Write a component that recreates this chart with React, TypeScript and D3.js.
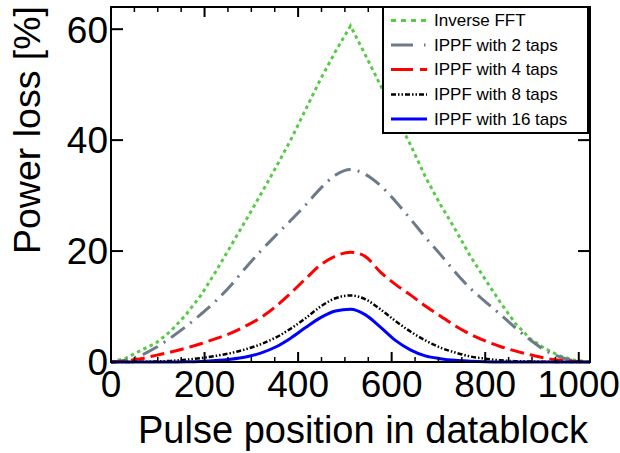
import React from "react";
import * as d3 from "d3";

// ---- data ----
const positions = [
  0, 32, 64, 96, 128, 160, 192, 224, 256, 288, 320, 352, 384, 416, 448, 480, 512,
  544, 576, 608, 640, 672, 704, 736, 768, 800, 832, 864, 896, 928, 960, 992, 1024,
];

const inverseFFT = [
  0, 0.7, 2.1, 3.4, 5.6, 8.5, 12.0, 16.3, 20.9, 25.5, 30.2, 35.0, 40.0, 45.5, 51.0, 56.0, 60.6,
  55.3, 49.9, 44.5, 39.2, 33.4, 28.4, 23.9, 19.1, 14.9, 10.8, 7.0, 4.2, 2.4, 1.1, 0.3, 0,
];
const ippf2 = [
  0, 0.3, 1.2, 2.6, 4.4, 6.4, 8.6, 11.0, 13.8, 17.0, 20.0, 22.8, 25.5, 28.3, 31.3, 33.7, 34.7,
  33.8, 31.8, 29.0, 25.8, 22.5, 19.4, 16.2, 13.3, 10.9, 8.6, 6.2, 4.0, 2.1, 0.9, 0.2, 0,
];
const ippf4 = [
  0, 0.2, 0.6, 1.2, 1.8, 2.5, 3.3, 4.2, 5.2, 6.5, 8.0, 10.0, 12.4, 15.0, 17.5, 19.1, 19.8,
  19.0, 16.2, 14.0, 12.1, 10.1, 8.3, 6.5, 5.0, 3.8, 2.8, 2.0, 1.3, 0.7, 0.3, 0.1, 0,
];
const ippf8 = [
  0, 0, 0.05, 0.1, 0.2, 0.4, 0.7, 1.1, 1.6, 2.3, 3.2, 4.4, 6.0, 7.9, 10.0, 11.5, 12.0,
  11.3, 9.5, 7.4, 5.5, 3.9, 2.6, 1.7, 1.0, 0.6, 0.3, 0.15, 0.1, 0.05, 0, 0, 0,
];
const ippf16 = [
  0, 0, 0, 0, 0.01, 0.03, 0.1, 0.25, 0.5, 0.9, 1.6, 2.7, 4.3, 6.2, 8.0, 9.2, 9.5,
  8.5, 6.3, 3.9, 2.2, 1.1, 0.6, 0.3, 0.15, 0.05, 0, 0, 0, 0, 0, 0, 0,
];

const seriesNames = [
  "Inverse FFT",
  "IPPF with 2 taps",
  "IPPF with 4 taps",
  "IPPF with 8 taps",
  "IPPF with 16 taps",
];
const seriesValues = [inverseFFT, ippf2, ippf4, ippf8, ippf16];

const xMajorTicks = [0, 200, 400, 600, 800, 1000];
const yTicks = [0, 20, 40, 60];

// ---- styles ----
const styles = [
  { color: "#55cc44", dash: "3.5,3.5", width: 3, linear: true },
  { color: "#6c7a89", dash: "17,7,2,7", width: 3, linear: false },
  { color: "#ff0000", dash: "14,6", width: 3, linear: false },
  { color: "#000000", dash: "5,2,1.5,2,1.5,2", width: 2.5, linear: false },
  { color: "#0000ff", dash: "none", width: 3, linear: false },
];

const FONT = "'Liberation Sans', Arial, Helvetica, sans-serif";

export default function App() {
  const W = 620;
  const H = 453;
  const left = 111;
  const right = 590;
  const top = 7;
  const bottom = 362;

  const x = d3.scaleLinear().domain([0, 1024]).range([left, right]);
  const y = d3.scaleLinear().domain([0, 64]).range([bottom, top]);

  const xMinor = d3.range(0, 1024, 50);

  const lines = seriesValues.map((vals, i) => {
    const gen = d3
      .line<number>()
      .x((_, j) => x(positions[j]))
      .y((v) => y(v))
      .curve(styles[i].linear ? d3.curveLinear : d3.curveMonotoneX);
    return gen(vals) || "";
  });

  const legX = 383;
  const legY = 7;
  const legW = 205;
  const legH = 126;
  const rowBase = [26, 50.5, 75, 100, 124.5];

  return (
    <svg
      width={W}
      height={H}
      style={{ position: "absolute", left: 0, top: 0, background: "#fff" }}
      fontFamily={FONT}
    >
      <rect x={0} y={0} width={W} height={H} fill="#fff" />
      {/* curves */}
      <g fill="none">
        {lines.map((d, i) => (
          <path
            key={i}
            d={d}
            stroke={styles[i].color}
            strokeWidth={styles[i].width}
            strokeDasharray={styles[i].dash}
          />
        ))}
      </g>
      {/* ticks */}
      <g stroke="#000" strokeWidth={1.5}>
        {xMinor.map((t) => {
          const major = t % 200 === 0;
          const len = major ? 10 : 5;
          return (
            <g key={t}>
              <line x1={x(t)} x2={x(t)} y1={bottom} y2={bottom - len} strokeWidth={major ? 2 : 1.5} />
              <line x1={x(t)} x2={x(t)} y1={top} y2={top + len} strokeWidth={major ? 2 : 1.5} />
            </g>
          );
        })}
        {yTicks.map((t) => (
          <g key={t}>
            <line x1={left} x2={left + 12} y1={y(t)} y2={y(t)} strokeWidth={2} />
            <line x1={right} x2={right - 12} y1={y(t)} y2={y(t)} strokeWidth={2} />
          </g>
        ))}
      </g>
      {/* frame */}
      <rect
        x={left}
        y={top}
        width={right - left}
        height={bottom - top}
        fill="none"
        stroke="#000"
        strokeWidth={2}
      />
      {/* tick labels */}
      <g fontSize={37} fill="#000">
        {xMajorTicks.map((t) => (
          <text key={t} x={x(t)} y={397} textAnchor="middle">
            {t}
          </text>
        ))}
        {yTicks.map((t) => (
          <text key={t} x={108} y={y(t)} dy="0.36em" textAnchor="end">
            {t}
          </text>
        ))}
      </g>
      {/* axis titles */}
      <text x={363} y={443} fontSize={38} textAnchor="middle" fill="#000">
        Pulse position in datablock
      </text>
      <text
        transform={`translate(40,130) rotate(-90)`}
        fontSize={37.5}
        textAnchor="middle"
        fill="#000"
      >
        Power loss [%]
      </text>
      {/* legend */}
      <rect x={legX} y={legY} width={legW} height={legH} fill="#fff" stroke="#000" strokeWidth={2} />
      {seriesNames.map((name, i) => (
        <g key={name}>
          <line
            x1={391}
            x2={427}
            y1={rowBase[i] - 5.5}
            y2={rowBase[i] - 5.5}
            stroke={styles[i].color}
            strokeWidth={styles[i].width}
            strokeDasharray={i === 0 ? "5,5" : i === 1 ? "22,11,1.5,5" : i === 2 ? "22,7" : styles[i].dash}
          />
          <text x={434} y={rowBase[i]} fontSize={17} fill="#000">
            {name}
          </text>
        </g>
      ))}
    </svg>
  );
}
